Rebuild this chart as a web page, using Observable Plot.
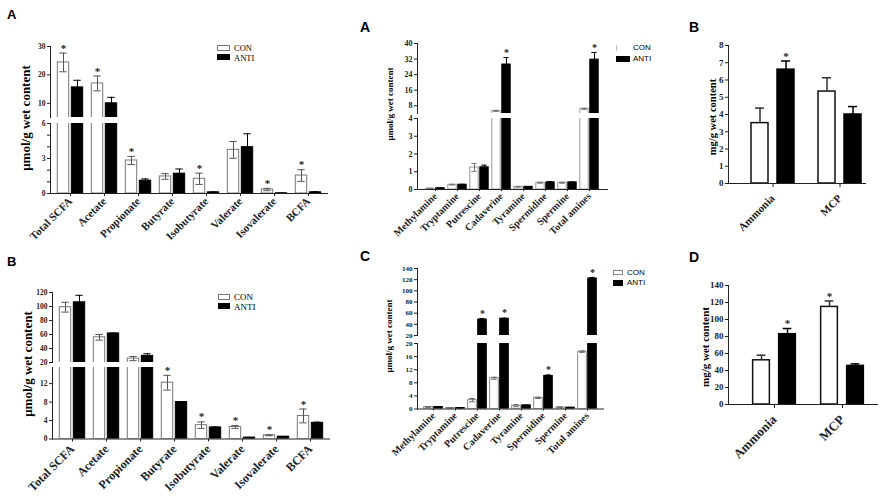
<!DOCTYPE html>
<html><head><meta charset="utf-8">
<script src="https://cdn.jsdelivr.net/npm/d3@7"></script>
<script src="https://cdn.jsdelivr.net/npm/@observablehq/plot@0.6"></script>
<style>
body{margin:0;background:#fff;}
#fig{position:relative;width:894px;height:503px;overflow:hidden;background:#fff;font-family:"Liberation Serif",serif;}
.seg{position:absolute;}
.seg svg{overflow:visible;background:none;}
.ytitle{position:absolute;transform:translate(-50%,-50%) rotate(-90deg);white-space:nowrap;font-weight:bold;line-height:1;}
.letter{position:absolute;font-family:"Liberation Sans",Arial,sans-serif;font-weight:bold;line-height:1;}
.legtxt{position:absolute;transform:translateY(-50%);line-height:1;white-space:nowrap;font-family:"Liberation Serif",serif;}
.box{position:absolute;box-sizing:border-box;}
</style></head><body><div id="fig"></div><script>
// ---------- DATA ----------
const scfaCats = ["Total SCFA","Acetate","Propionate","Butyrate","Isobutyrate","Valerate","Isovalerate","BCFA"];
// Panel A (SCFA, top-left)
const scfaA_con     = [24.4, 17.0, 2.83, 1.46, 1.26, 3.74, 0.34, 1.54];
const scfaA_conErr  = [3.3, 2.6, 0.35, 0.24, 0.48, 0.72, 0.1, 0.5];
const scfaA_anti    = [15.6, 10.0, 1.1, 1.7, 0.1, 3.97, 0.02, 0.1];
const scfaA_antiErr = [2.5, 2.1, 0.15, 0.4, 0.03, 1.15, 0.01, 0.05];
const scfaA_conSig  = [1,1,1,0,1,0,1,1];
const scfaA_antiSig = [0,0,0,0,0,0,0,0];
// Panel B (SCFA, bottom-left)
const scfaB_con     = [99, 56, 25.6, 12.2, 3.0, 2.6, 0.8, 5.0];
const scfaB_conErr  = [7, 4, 3, 1.6, 0.7, 0.3, 0.1, 1.5];
const scfaB_anti    = [106, 61.5, 29.5, 8.0, 2.5, 0.3, 0.5, 3.5];
const scfaB_antiErr = [10, 0.5, 3, 0.1, 0.1, 0.05, 0.05, 0.15];
const scfaB_conSig  = [0,0,0,1,1,1,1,1];
const scfaB_antiSig = [0,0,0,0,0,0,0,0];

const amineCats = ["Methylamine","Tryptamine","Putrescine","Cadaverine","Tyramine","Spermidine","Spermine","Total amines"];
// Panel A (amines, top-middle)
const amA_con     = [0.05, 0.27, 1.24, 5.3, 0.15, 0.38, 0.38, 6.4];
const amA_conErr  = [0.02, 0.02, 0.22, 0.3, 0.02, 0.03, 0.03, 0.3];
const amA_anti    = [0.07, 0.27, 1.25, 29.2, 0.15, 0.4, 0.4, 31.7];
const amA_antiErr = [0.01, 0.02, 0.12, 3.6, 0.01, 0.05, 0.02, 3.7];
const amA_conSig  = [0,0,0,0,0,0,0,0];
const amA_antiSig = [0,0,0,1,0,0,0,1];
// Panel C (amines, bottom-middle)
const amC_con     = [0.6, 0.3, 2.7, 9.4, 1.0, 3.4, 0.5, 17.5];
const amC_conErr  = [0.1, 0.05, 0.5, 0.3, 0.3, 0.2, 0.1, 0.2];
const amC_anti    = [0.6, 0.3, 48.5, 50, 1.1, 10.1, 0.4, 122];
const amC_antiErr = [0.1, 0.05, 2, 1, 0.1, 0.3, 0.1, 2];
const amC_conSig  = [0,0,0,0,0,0,0,0];
const amC_antiSig = [0,0,1,1,0,1,0,1];

const nCats = ["Ammonia","MCP"];
// Panel B (right top)
const rB_con     = [3.5, 5.33];
const rB_conErr  = [0.87, 0.8];
const rB_anti    = [6.6, 4.0];
const rB_antiErr = [0.5, 0.46];
const rB_conSig  = [0, 0];
const rB_antiSig = [1, 0];
// Panel D (right bottom)
const rD_con     = [52, 114.8];
const rD_conErr  = [6, 7];
const rD_anti    = [82.7, 45.4];
const rD_antiErr = [6.7, 2.4];
const rD_conSig  = [0, 1];
const rD_antiSig = [1, 0];

const legLabels = ["CON", "ANTI"];

// ---------- DRAWING ----------
const fig = document.getElementById("fig");

function segment(p, s) {
  const n = p.cats.length;
  const mL = 40, mR = 8, mT = 30, mB = s.showX ? 90 : 4;
  const W = p.x1 - p.x0, H = s.yBot - s.yTop;
  const pi = p.pi, po = p.po, align = p.align;
  const step = W / (n - pi + 2 * po);
  const bw = step * (1 - pi);
  const inset = (bw - p.w) / 2, capInset = (bw - p.cap) / 2;
  const off = (p.w + p.g) / 2;
  const rows = p.cats.map((c, i) => ({cat: c, con: p.con[i], conErr: p.conErr[i], anti: p.anti[i], antiErr: p.antiErr[i], conSig: p.conSig[i], antiSig: p.antiSig[i]}));
  const [lo, hi] = s.domain;
  const cut = s.cut ?? -Infinity;
  const inDom = v => v >= lo && v <= hi;
  const marks = [];
  for (const [key, dx, fill, stroke, errStroke] of [["con", -off, "white", p.conStroke, p.conErrStroke], ["anti", off, "black", "black", "black"]]) {
    const ek = key + "Err";
    marks.push(Plot.barY(rows, {x: "cat", y: key, dx, insetLeft: inset, insetRight: inset, fill, stroke, strokeWidth: p.sw, clip: true}));
    const er = rows.filter(d => d[ek] > 0 && d[key] > cut);
    marks.push(Plot.ruleX(er, {x: "cat", y1: d => p.errUp ? d[key] : d[key] - d[ek], y2: d => d[key] + d[ek], dx, stroke: errStroke, strokeWidth: p.esw, clip: true}));
    marks.push(Plot.tickY(er, {x: "cat", y: d => d[key] + d[ek], dx, insetLeft: capInset, insetRight: capInset, stroke: errStroke, strokeWidth: p.esw, clip: true}));
    if (!p.errUp) marks.push(Plot.tickY(er, {x: "cat", y: d => d[key] - d[ek], dx, insetLeft: capInset, insetRight: capInset, stroke: errStroke, strokeWidth: p.esw, clip: true}));
    marks.push(Plot.text(rows.filter(d => d[key + "Sig"] && d[key] > cut && inDom(d[key] + d[ek])), {x: "cat", y: d => d[key] + d[ek], dx, dy: -5, text: () => "*", fontSize: p.starSize, lineAnchor: "middle"}));
  }
  marks.push(Plot.axisY({ticks: s.ticks, tickFormat: d => s.labels.includes(d) ? String(d) : "", tickSize: 3, tickPadding: 2, fontSize: p.yFont, label: null}));
  marks.push(Plot.frame({anchor: "left"}));
  if (s.showX) {
    marks.push(Plot.axisX({tickRotate: -45, tickSize: p.xTick, tickPadding: p.xPad, fontSize: p.xFont, label: null}));
    marks.push(Plot.frame({anchor: "bottom"}));
  }
  const svg = Plot.plot({
    width: W + mL + mR, height: H + mT + mB,
    marginLeft: mL, marginRight: mR, marginTop: mT, marginBottom: mB,
    x: {domain: p.cats, paddingInner: pi, paddingOuter: po, align, axis: s.showX ? undefined : null},
    y: {domain: s.domain},
    style: {fontFamily: "'Liberation Serif', 'Times New Roman', serif", fontWeight: "bold", fontSize: "9px", background: "none", overflow: "visible", color: "#222"},
    marks
  });
  const div = document.createElement("div");
  div.className = "seg";
  div.style.left = (p.x0 - mL) + "px";
  div.style.top = (s.yTop - mT) + "px";
  div.appendChild(svg);
  fig.appendChild(div);
}

function panel(p) { for (const s of p.segs) segment(p, s); }

function addText(cls, txt, x, y, size, extra) {
  const d = document.createElement("div");
  d.className = cls; d.textContent = txt;
  d.style.left = x + "px"; d.style.top = y + "px"; d.style.fontSize = size + "px";
  if (extra) Object.assign(d.style, extra);
  fig.appendChild(d);
}
function addBox(x, y, w, h, fill, border) {
  const d = document.createElement("div");
  d.className = "box";
  Object.assign(d.style, {left: x + "px", top: y + "px", width: w + "px", height: h + "px", background: fill, border: border || "none"});
  fig.appendChild(d);
}

const range = (a, b, s) => d3.range(a, b + s / 2, s);

// SCFA A
panel({cats: scfaCats, con: scfaA_con, conErr: scfaA_conErr, anti: scfaA_anti, antiErr: scfaA_antiErr, conSig: scfaA_conSig, antiSig: scfaA_antiSig,
  x0: 50, x1: 327, pi: 0, po: 0, align: 0.5, w: 12, g: 2, cap: 8, sw: 1, esw: 1, conStroke: "#777", conErrStroke: "#555", errUp: false,
  yFont: 7.5, xFont: 11, xTick: 3, xPad: 3, starSize: 11,
  segs: [
    {domain: [5, 30], yTop: 46, yBot: 117, ticks: [10, 20, 30], labels: [10, 20, 30], cut: 6},
    {domain: [0, 6], yTop: 123, yBot: 193, ticks: range(0, 6, 1), labels: [0, 3, 6], showX: true}
  ]});
// SCFA B
panel({cats: scfaCats, con: scfaB_con, conErr: scfaB_conErr, anti: scfaB_anti, antiErr: scfaB_antiErr, conSig: scfaB_conSig, antiSig: scfaB_antiSig,
  x0: 52, x1: 329, pi: 0, po: 0, align: 0.5, w: 12, g: 2, cap: 8, sw: 1, esw: 1, conStroke: "#777", conErrStroke: "#555", errUp: false,
  yFont: 7.5, xFont: 12, xTick: 3, xPad: 5, starSize: 11,
  segs: [
    {domain: [20, 120], yTop: 292, yBot: 362, ticks: range(20, 120, 20), labels: range(20, 120, 20)},
    {domain: [0, 15.5], yTop: 366.5, yBot: 438, ticks: [0, 4, 8, 12], labels: [0, 4, 8, 12], showX: true}
  ]});
// Amines A
panel({cats: amineCats, con: amA_con, conErr: amA_conErr, anti: amA_anti, antiErr: amA_antiErr, conSig: amA_conSig, antiSig: amA_antiSig,
  x0: 417, x1: 607, pi: 0, po: 0.2, align: 0.5, w: 9, g: 1, cap: 6, sw: 1, esw: 1, conStroke: "#999", conErrStroke: "#777", errUp: false,
  yFont: 8, xFont: 10, xTick: 2, xPad: 3, starSize: 10,
  segs: [
    {domain: [4, 40], yTop: 43, yBot: 113, ticks: [8, 16, 24, 32, 40], labels: [8, 16, 24, 32, 40]},
    {domain: [0, 4], yTop: 118, yBot: 189, ticks: [0, 1, 2, 3, 4], labels: [0, 1, 2, 3, 4], showX: true}
  ]});
// Amines C
panel({cats: amineCats, con: amC_con, conErr: amC_conErr, anti: amC_anti, antiErr: amC_antiErr, conSig: amC_conSig, antiSig: amC_antiSig,
  x0: 417, x1: 603, pi: 0, po: 0.15, align: 0.5, w: 9, g: 1, cap: 6, sw: 1, esw: 1, conStroke: "#888", conErrStroke: "#666", errUp: false,
  yFont: 7, xFont: 10, xTick: 2, xPad: 3, starSize: 10,
  segs: [
    {domain: [20, 140], yTop: 268, yBot: 335, ticks: range(20, 140, 20), labels: range(20, 140, 20)},
    {domain: [0, 20], yTop: 342.5, yBot: 408, ticks: range(0, 20, 4), labels: range(0, 20, 4), showX: true}
  ]});
// Right B
panel({cats: nCats, con: rB_con, conErr: rB_conErr, anti: rB_anti, antiErr: rB_antiErr, conSig: rB_conSig, antiSig: rB_antiSig,
  x0: 728, x1: 865, pi: 0.3, po: 0.17, align: 0.9, w: 17, g: 9, cap: 9, sw: 1.5, esw: 1.5, conStroke: "#111", conErrStroke: "#333", errUp: true,
  yFont: 9, xFont: 11, xTick: 4, xPad: 9, starSize: 11,
  segs: [{domain: [0, 8], yTop: 45, yBot: 183, ticks: range(0, 8, 1), labels: range(0, 8, 1), showX: true}]});
// Right D
panel({cats: nCats, con: rD_con, conErr: rD_conErr, anti: rD_anti, antiErr: rD_antiErr, conSig: rD_conSig, antiSig: rD_antiSig,
  x0: 728, x1: 877, pi: 0.3, po: 0.23, align: 0.65, w: 17, g: 9, cap: 9, sw: 1.5, esw: 1.5, conStroke: "#111", conErrStroke: "#333", errUp: true,
  yFont: 9, xFont: 13, xTick: 4, xPad: 9, starSize: 11,
  segs: [{domain: [0, 140], yTop: 285, yBot: 404, ticks: range(0, 140, 20), labels: range(0, 140, 20), showX: true}]});

// Y titles
addText("ytitle", "μmol/g wet content", 25, 118, 13);
addText("ytitle", "μmol/g wet content", 27, 364, 13);
addText("ytitle", "μmol/g wet content", 390, 104, 9);
addText("ytitle", "μmol/g wet content", 389, 336, 9);
addText("ytitle", "mg/g wet content", 713, 117, 10.5);
addText("ytitle", "mg/g wet content", 705, 347, 11);

// Panel letters
addText("letter", "A", 7, 8, 13);
addText("letter", "B", 7, 255, 13);
addText("letter", "A", 360, 20, 14);
addText("letter", "C", 360, 249, 14);
addText("letter", "B", 689, 20, 14);
addText("letter", "D", 689, 250, 14);

// Legends
addBox(217, 45, 13, 6, "#fff", "1px solid #777");
addBox(217, 54, 13, 6, "#000");
addText("legtxt", legLabels[0], 234, 48, 8.5);
addText("legtxt", legLabels[1], 234, 57.5, 8.5);

addBox(218, 294, 12, 6, "#fff", "1px solid #777");
addBox(218, 303, 12, 6, "#000");
addText("legtxt", legLabels[0], 234, 297, 9);
addText("legtxt", legLabels[1], 234, 306.5, 9);

addBox(616, 45, 1, 6, "#bbb");
addBox(616, 56, 14, 6, "#000");
addText("legtxt", legLabels[0], 633, 48, 8, {fontFamily: "'Liberation Sans', Arial, sans-serif"});
addText("legtxt", legLabels[1], 633, 59, 8, {fontFamily: "'Liberation Sans', Arial, sans-serif"});

addBox(613, 270, 10, 5, "#fff", "1px solid #888");
addBox(613, 280, 10, 6, "#000");
addText("legtxt", legLabels[0], 627, 272.5, 8, {fontFamily: "'Liberation Sans', Arial, sans-serif"});
addText("legtxt", legLabels[1], 627, 283, 8, {fontFamily: "'Liberation Sans', Arial, sans-serif"});
</script></body></html>
